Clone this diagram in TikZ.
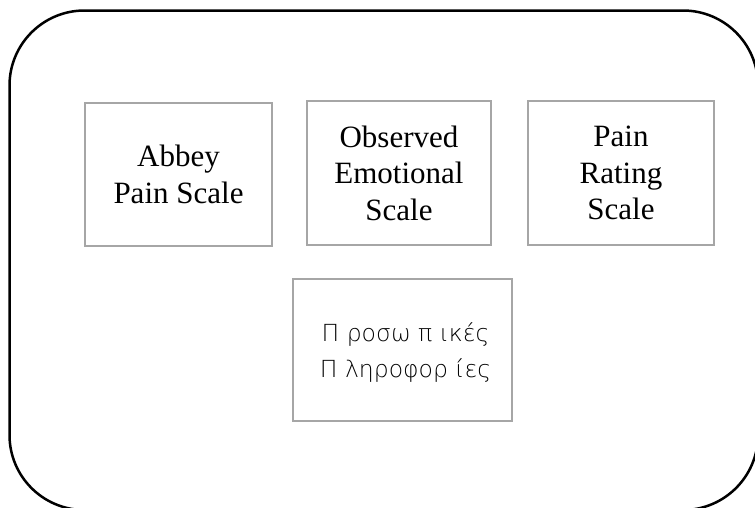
\documentclass[tikz,border=0pt]{standalone}
\usepackage{fontspec}
\setmainfont{Liberation Serif}
\newfontfamily\grk{DejaVu Sans ExtraLight}
\tikzset{
  frame/.style={draw=black, line width=2.5pt, rounded corners=75pt},
  scalebox/.style={draw=black!35, line width=2pt, fill=white, inner sep=0pt,
    align=center, font=\fontsize{31}{36.5}\selectfont},
  greekbox/.style={scalebox, font=\grk\fontsize{23.5}{36}\selectfont}
}
\begin{document}
\begin{tikzpicture}[x=1pt,y=-1pt]
  \useasboundingbox (0,0) rectangle (755,507);
  \clip (0,0) rectangle (755,507);
  % outer rounded frame
  \draw[frame] (9.5,10.5) rectangle (758,510);
  % the four assessment boxes
  \node[scalebox, minimum width=187pt, minimum height=143pt] (abbey) at (178.5,174.5)
    {Abbey\\Pain Scale};
  \node[scalebox, minimum width=184pt, minimum height=144pt] (emo) at (399,173)
    {Observed\\Emotional\\Scale};
  \node[scalebox, minimum width=186pt, minimum height=144pt] (rating) at (621,173)
    {Pain\\Rating\\Scale};
  \node[scalebox, minimum width=219pt, minimum height=142pt] (info) at (402.5,350) {};
  \node[greekbox, draw=none, fill=none] (infotext) at ([xshift=3pt,yshift=-3pt]info.center)
    {Π ροσω π ικές\\Π ληροφορ ίες};
\end{tikzpicture}
\end{document}
